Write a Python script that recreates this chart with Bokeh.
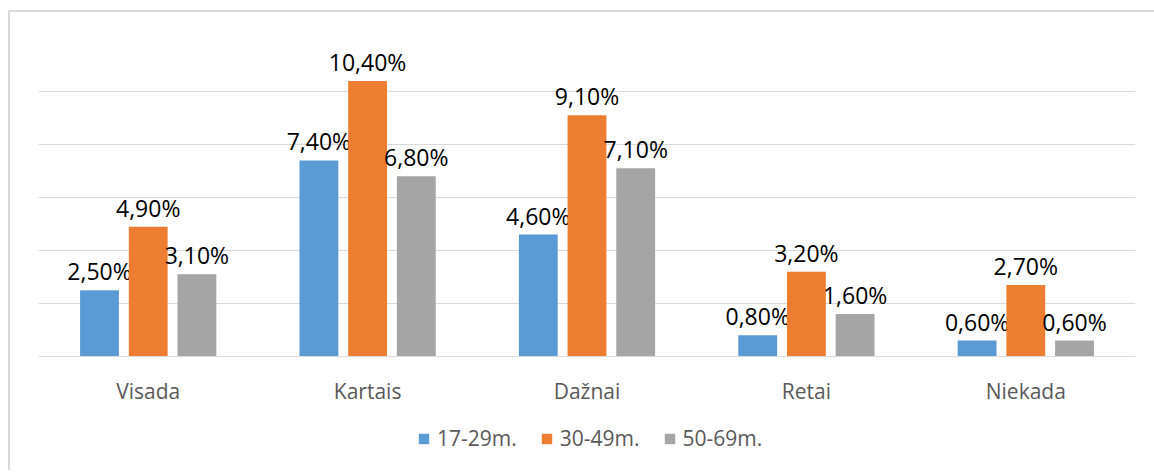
from bokeh.plotting import figure
from bokeh.layouts import column
from bokeh.models import ColumnDataSource, FactorRange, Range1d, Legend, LegendItem, FixedTicker
from bokeh.transform import dodge
from bokeh.core.properties import value
from bokeh.embed import file_html
from bokeh.resources import INLINE

categories = ["Visada", "Kartais", "Dažnai", "Retai", "Niekada"]
series_names = ["17-29m.", "30-49m.", "50-69m."]
s1 = [2.5, 7.4, 4.6, 0.8, 0.6]
s2 = [4.9, 10.4, 9.1, 3.2, 2.7]
s3 = [3.1, 6.8, 7.1, 1.6, 0.6]
colors = ["#5B9BD5", "#ED7D31", "#A5A5A5"]
grid_ticks = [0, 2, 4, 6, 8, 10, 12]

def fmt(v):
    return ("%.2f" % v).replace(".", ",") + "%"

FONT = "Open Sans"

p = figure(x_range=FactorRange(*categories, range_padding=0), y_range=Range1d(0, 12),
           width=1136, height=400, output_backend="svg", toolbar_location=None,
           min_border_left=28, min_border_right=11, min_border_top=26, min_border_bottom=56)
p.outline_line_color = None
p.background_fill_color = "white"
p.border_fill_color = "white"

src = ColumnDataSource(dict(cat=categories, s1=s1, s2=s2, s3=s3,
                            l1=[fmt(v) for v in s1], l2=[fmt(v) for v in s2], l3=[fmt(v) for v in s3]))

offsets = [-0.222, 0.0, 0.222]
for i, (key, lab) in enumerate([("s1", "l1"), ("s2", "l2"), ("s3", "l3")]):
    p.vbar(x=dodge("cat", offsets[i], range=p.x_range), top=key, width=0.177, bottom=0,
           source=src, fill_color=colors[i], line_color=None)
    p.text(x=dodge("cat", offsets[i], range=p.x_range), y=key, text=lab, source=src,
           text_align="center", text_baseline="alphabetic", y_offset=-19,
           text_font=value(FONT), text_font_size="23px", text_color="#000000")

p.yaxis.visible = False
p.yaxis.ticker = FixedTicker(ticks=grid_ticks)
p.ygrid.ticker = FixedTicker(ticks=grid_ticks)
p.ygrid.grid_line_color = "#d9d9d9"
p.ygrid.grid_line_width = 1
p.xgrid.grid_line_color = None

p.xaxis.axis_line_color = "#d9d9d9"
p.xaxis.axis_line_width = 1
p.xaxis.major_tick_line_color = None
p.xaxis.minor_tick_line_color = None
p.xaxis.major_label_text_font = FONT
p.xaxis.major_label_text_font_size = "21px"
p.xaxis.major_label_text_color = "#595959"
p.xaxis.major_label_standoff = 14

# legend strip
leg = figure(width=1136, height=58, x_range=Range1d(0, 1), y_range=Range1d(0, 1),
             x_axis_type=None, y_axis_type=None, output_backend="svg", toolbar_location=None,
             min_border=0)
leg.outline_line_color = None
leg.border_fill_color = "white"
leg.xgrid.visible = False
leg.ygrid.visible = False
leg_renderers = []
for i in range(3):
    leg_renderers.append(leg.vbar(x=[0.5], top=[0], bottom=[0], width=0.0001,
                                  fill_color=colors[i], line_color=None))

legend = Legend(items=[LegendItem(label=series_names[i], renderers=[leg_renderers[i]]) for i in range(3)],
                orientation="horizontal", location=(379, 18),
                glyph_width=13, glyph_height=13, label_standoff=7, spacing=23,
                padding=0, margin=0, border_line_color=None, background_fill_alpha=0,
                label_text_font=FONT, label_text_font_size="21px", label_text_color="#595959")
leg.add_layout(legend, "center")

layout = column(p, leg, spacing=0)
layout.styles = {"border-top": "2px solid #d9d9d9", "border-left": "2px solid #d9d9d9",
                 "margin-left": "8px", "margin-top": "10px", "padding-right": "10px"}

open("out.html", "w").write(file_html(layout, INLINE))
